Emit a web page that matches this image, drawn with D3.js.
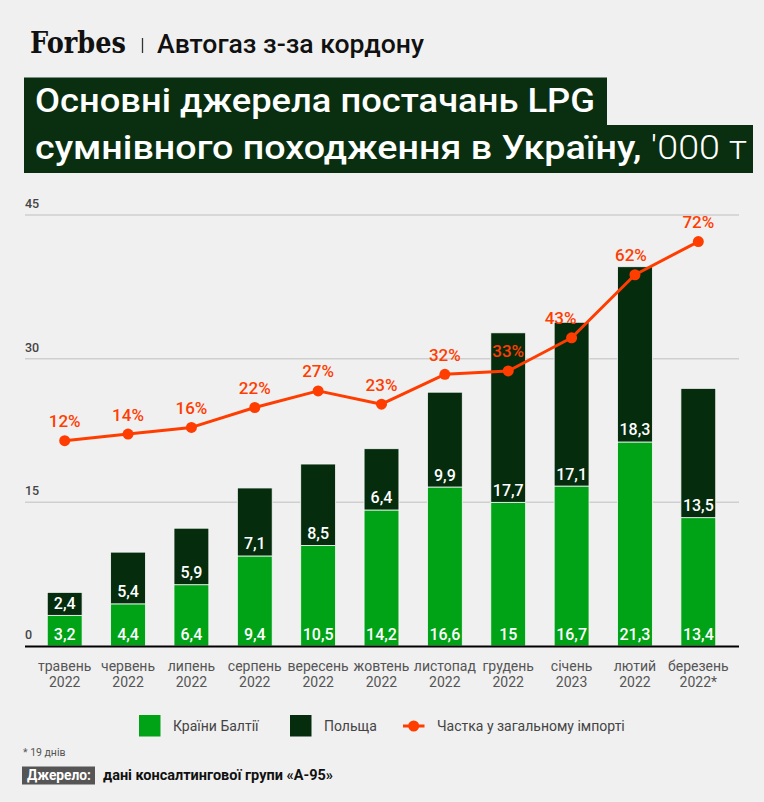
<!DOCTYPE html>
<html>
<head>
<meta charset="utf-8">
<script src="https://cdn.jsdelivr.net/npm/d3@7"></script>
<style>
  html, body { margin: 0; padding: 0; background: #f0f0f0; }
  svg { display: block; font-family: Roboto, "Noto Sans", sans-serif; }
</style>
</head>
<body>
<svg id="chart" width="764" height="802"></svg>
<script>
// data
const months = ['травень', 'червень', 'липень', 'серпень', 'вересень', 'жовтень',
  'листопад', 'грудень', 'січень', 'лютий', 'березень'];
const years = ['2022', '2022', '2022', '2022', '2022', '2022', '2022', '2022', '2023', '2022', '2022*'];
const baltic = [3.2, 4.4, 6.4, 9.4, 10.5, 14.2, 16.6, 15, 16.7, 21.3, 13.4];
const poland = [2.4, 5.4, 5.9, 7.1, 8.5, 6.4, 9.9, 17.7, 17.1, 18.3, 13.5];
const share = [12, 14, 16, 22, 27, 23, 32, 33, 43, 62, 72];
const yTicks = [0, 15, 30, 45];

const colors = { baltic: '#00a316', poland: '#062c0e', share: '#ff3d00', title: '#0a2e10' };
const fmt = d => String(d).replace('.', ',');

const svg = d3.select('#chart');

// header
svg.append('text')
  .attr('x', 30).attr('y', 53)
  .attr('font-family', '"DejaVu Serif", "Liberation Serif", serif')
  .attr('font-weight', 700)
  .attr('font-size', 30)
  .attr('textLength', 96)
  .attr('lengthAdjust', 'spacingAndGlyphs')
  .attr('fill', '#111')
  .text('Forbes');
svg.append('line')
  .attr('x1', 142.5).attr('x2', 142.5)
  .attr('y1', 38).attr('y2', 53)
  .attr('stroke', '#333').attr('stroke-width', 1.3);
svg.append('text')
  .attr('x', 157).attr('y', 53)
  .attr('font-size', 25).attr('font-weight', 500)
  .attr('textLength', 267)
  .attr('lengthAdjust', 'spacingAndGlyphs')
  .attr('fill', '#111')
  .text('Автогаз з-за кордону');

// title boxes
svg.append('rect').attr('x', 24).attr('y', 77.5).attr('width', 583).attr('height', 48).attr('fill', colors.title);
svg.append('rect').attr('x', 24).attr('y', 125).attr('width', 729).attr('height', 48).attr('fill', colors.title);
svg.append('text')
  .attr('x', 35).attr('y', 111.5)
  .attr('font-size', 33).attr('font-weight', 500).attr('fill', '#fff')
  .attr('textLength', 560).attr('lengthAdjust', 'spacingAndGlyphs')
  .text('Основні джерела постачань LPG');
const t2 = svg.append('text')
  .attr('x', 35).attr('y', 159)
  .attr('font-size', 33).attr('font-weight', 500).attr('fill', '#fff')
  .attr('textLength', 712).attr('lengthAdjust', 'spacingAndGlyphs');
t2.append('tspan').text('сумнівного походження в Україну, ');
t2.append('tspan').attr('font-weight', 300).text('\'000 т');

// scales
const x = d3.scaleBand()
  .domain(months)
  .range([33, 730])
  .paddingInner(0.45)
  .paddingOuter(0.225);
const y = d3.scaleLinear().domain([0, 45]).range([646, 215]);
const yShare = d3.scaleLinear().domain([0, 80]).range([480.5, 215]);

const left = 25, right = 739;

// grid
const grid = svg.append('g');
grid.selectAll('line')
  .data(yTicks.filter(d => d > 0))
  .join('line')
  .attr('x1', left).attr('x2', right)
  .attr('y1', d => y(d)).attr('y2', d => y(d))
  .attr('stroke', '#cfcfcf').attr('stroke-width', 1.5);
grid.selectAll('text')
  .data(yTicks)
  .join('text')
  .attr('x', left).attr('y', d => y(d) - 7)
  .attr('font-size', 12.5).attr('font-weight', 500).attr('fill', '#444')
  .text(d => d);

// stacked bars
const rows = months.map((m, i) => ({ month: m, baltic: baltic[i], poland: poland[i] }));
const stack = d3.stack().keys(['baltic', 'poland'])(rows);

svg.append('g')
  .selectAll('g')
  .data(stack)
  .join('g')
  .attr('fill', d => colors[d.key])
  .selectAll('rect')
  .data(d => d)
  .join('rect')
  .attr('x', d => x(d.data.month))
  .attr('width', x.bandwidth())
  .attr('y', d => y(d[1]))
  .attr('height', d => y(d[0]) - y(d[1]))
  .attr('stroke', '#f8f8f8').attr('stroke-width', 0.8);

// bar labels
const barLabels = svg.append('g')
  .attr('fill', '#fff').attr('font-size', 16).attr('font-weight', 500)
  .attr('text-anchor', 'middle');
barLabels.selectAll('text.b')
  .data(rows)
  .join('text').attr('class', 'b')
  .attr('x', d => x(d.month) + x.bandwidth() / 2)
  .attr('y', y(0) - 6)
  .text(d => fmt(d.baltic));
barLabels.selectAll('text.p')
  .data(rows)
  .join('text').attr('class', 'p')
  .attr('x', d => x(d.month) + x.bandwidth() / 2)
  .attr('y', d => y(d.baltic) - 6.5)
  .text(d => fmt(d.poland));

// baseline
svg.append('line')
  .attr('x1', left).attr('x2', right)
  .attr('y1', y(0) + 0.5).attr('y2', y(0) + 0.5)
  .attr('stroke', '#000').attr('stroke-width', 2);

// x labels
const xl = svg.append('g')
  .attr('font-size', 14).attr('fill', '#555').attr('text-anchor', 'middle');
xl.selectAll('text')
  .data(months)
  .join('text')
  .attr('x', d => x(d) + x.bandwidth() / 2)
  .attr('y', 671)
  .call(t => t.append('tspan').text(d => d))
  .call(t => t.append('tspan')
    .attr('x', d => x(d) + x.bandwidth() / 2)
    .attr('dy', 16)
    .text((d, i) => years[i]));

// share line
const cx = i => x(months[i]) + x.bandwidth() / 2;
const line = d3.line().x((d, i) => cx(i)).y(d => yShare(d));
svg.append('path')
  .datum(share)
  .attr('fill', 'none')
  .attr('stroke', colors.share)
  .attr('stroke-width', 3)
  .attr('stroke-linejoin', 'round')
  .attr('d', line);
svg.append('g')
  .selectAll('circle')
  .data(share)
  .join('circle')
  .attr('cx', (d, i) => cx(i))
  .attr('cy', d => yShare(d))
  .attr('r', 5.5)
  .attr('fill', colors.share);

// a couple of labels sit slightly off centre in the original
const nudge = { 8: -11, 9: -4 };
svg.append('g')
  .attr('font-size', 17).attr('font-weight', 500).attr('fill', colors.share)
  .attr('text-anchor', 'middle')
  .selectAll('text')
  .data(share)
  .join('text')
  .attr('x', (d, i) => cx(i) + (nudge[i] || 0))
  .attr('y', d => yShare(d) - 13.5)
  .text(d => d + '%');

// legend
const lg = svg.append('g').attr('font-size', 14).attr('fill', '#444');
lg.append('rect').attr('x', 139).attr('y', 715).attr('width', 21.5).attr('height', 21.5).attr('fill', colors.baltic);
lg.append('text').attr('x', 173).attr('y', 731).text('Країни Балтії');
lg.append('rect').attr('x', 290).attr('y', 715).attr('width', 21.5).attr('height', 21.5).attr('fill', colors.poland);
lg.append('text').attr('x', 324).attr('y', 731).text('Польща');
lg.append('line').attr('x1', 403).attr('x2', 424.5).attr('y1', 726).attr('y2', 726)
  .attr('stroke', colors.share).attr('stroke-width', 3);
lg.append('circle').attr('cx', 413.7).attr('cy', 726).attr('r', 5.5).attr('fill', colors.share);
lg.append('text').attr('x', 437).attr('y', 731).text('Частка у загальному імпорті');

// footnote + source
svg.append('text')
  .attr('x', 23).attr('y', 756)
  .attr('font-size', 10.5).attr('fill', '#555')
  .text('* 19 днів');
svg.append('rect').attr('x', 22).attr('y', 766.5).attr('width', 73).attr('height', 18).attr('fill', '#555');
svg.append('text')
  .attr('x', 27).attr('y', 780)
  .attr('font-size', 14.5).attr('font-weight', 700).attr('fill', '#fff')
  .attr('textLength', 64).attr('lengthAdjust', 'spacingAndGlyphs')
  .text('Джерело:');
svg.append('text')
  .attr('x', 103).attr('y', 780)
  .attr('font-size', 14.5).attr('font-weight', 700).attr('fill', '#111')
  .attr('textLength', 230).attr('lengthAdjust', 'spacingAndGlyphs')
  .text('дані консалтингової групи «А-95»');
</script>
</body>
</html>
